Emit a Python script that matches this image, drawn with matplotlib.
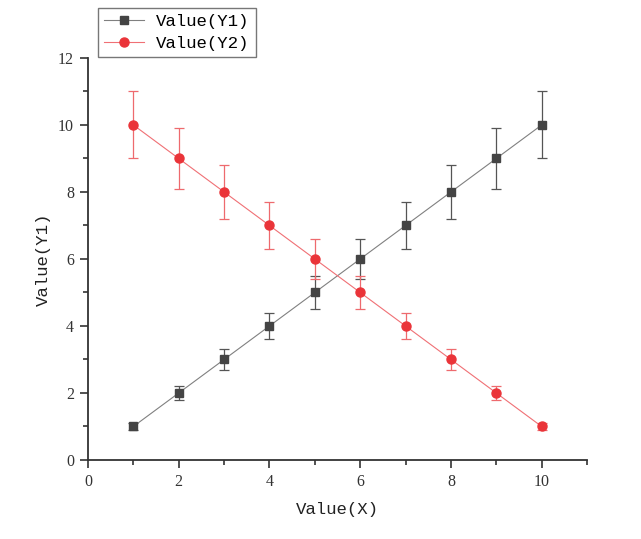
import numpy as np
import matplotlib.pyplot as plt
from matplotlib.ticker import MultipleLocator

# data
x = [1, 2, 3, 4, 5, 6, 7, 8, 9, 10]
y1 = [1, 2, 3, 4, 5, 6, 7, 8, 9, 10]
y1_err = [0.1, 0.2, 0.3, 0.4, 0.5, 0.6, 0.7, 0.8, 0.9, 1.0]
y2 = [10, 9, 8, 7, 6, 5, 4, 3, 2, 1]
y2_err = [1.0, 0.9, 0.8, 0.7, 0.6, 0.5, 0.4, 0.3, 0.2, 0.1]

fig = plt.figure(figsize=(6.41, 5.39), dpi=100)
ax = fig.add_axes([0.1373, 0.1466, 0.7785, 0.7458])

# Y1 series
ax.errorbar(x, y1, yerr=y1_err, fmt='none', ecolor='#555555', elinewidth=0.9,
            capsize=3.5, capthick=0.9, zorder=2)
ax.plot(x, y1, color='#808080', lw=0.8, marker='s', ms=5.8,
        mfc='#444444', mec='#444444', label='Value(Y1)', zorder=3)

# Y2 series
ax.errorbar(x, y2, yerr=y2_err, fmt='none', ecolor='#ee6a6e', elinewidth=0.9,
            capsize=3.5, capthick=0.9, zorder=2)
ax.plot(x, y2, color='#f07075', lw=0.8, marker='o', ms=6.5,
        mfc='#ea3439', mec='#ea3439', label='Value(Y2)', zorder=3)

ax.set_xlim(0, 11)
ax.set_ylim(0, 12)
ax.xaxis.set_major_locator(MultipleLocator(2))
ax.xaxis.set_minor_locator(MultipleLocator(1))
ax.yaxis.set_major_locator(MultipleLocator(2))
ax.yaxis.set_minor_locator(MultipleLocator(1))

for s in ['top', 'right']:
    ax.spines[s].set_visible(False)
for s in ['left', 'bottom']:
    ax.spines[s].set_linewidth(1.3)
    ax.spines[s].set_color('#333333')

ax.tick_params(which='major', direction='out', length=6, width=1.2, color='#333333', pad=4)
ax.tick_params(which='minor', direction='out', length=3.5, width=1.2, color='#333333')
for lab in ax.get_xticklabels() + ax.get_yticklabels():
    lab.set_family('Liberation Serif')
    lab.set_fontsize(11.5)
    lab.set_color('#333333')

ax.set_xlabel('Value(X)', family='Liberation Mono', fontsize=12.5, color='#222222', labelpad=9)
ax.set_ylabel('Value(Y1)', family='Liberation Mono', fontsize=12.5, color='#222222', labelpad=5)

leg = fig.legend(loc='upper left', bbox_to_anchor=(0.153, 0.985), borderaxespad=0,
                 frameon=True, fancybox=False, edgecolor='#555555', borderpad=0.35,
                 handlelength=2.3, labelspacing=0.4, handletextpad=0.7,
                 prop={'family': 'Liberation Mono', 'size': 12.5})
leg.get_frame().set_linewidth(1.0)

fig.savefig('out.png', dpi=100)
